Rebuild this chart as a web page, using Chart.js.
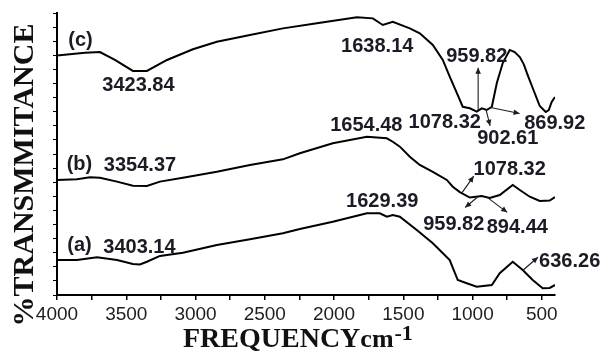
<!DOCTYPE html>
<html>
<head>
<meta charset="utf-8">
<script src="https://cdn.jsdelivr.net/npm/chart.js@4/dist/chart.umd.min.js"></script>
<style>
  html, body { margin: 0; padding: 0; background: #fff; }
  #wrap { width: 603px; height: 353px; position: relative; }
</style>
</head>
<body>
<div id="wrap"><canvas id="ftir" width="603" height="353"></canvas></div>
<script>
// FT-IR spectra: wavenumber (cm-1) and relative transmittance for samples (a), (b), (c)
const wnC = [4000,3798,3690,3582,3452,3351,3206,3019,2846,2607,2369,2124,1835,1720,1648,1576,1453,1381,1287,1215,1165,1114,1071,1020,970,934,898,861,825,782,732,696,659,631,602,566,515,472,450,429,405];
const tC  = [16.99,17.18,17.23,16.67,15.89,15.89,16.67,17.43,17.96,18.44,18.91,19.27,19.70,19.62,19.15,19.38,18.91,18.56,17.73,16.67,15.48,14.33,13.35,13.24,13.00,13.24,13.12,13.35,15.04,16.45,17.38,17.23,16.88,16.38,15.60,14.68,13.40,12.98,13.12,13.69,14.04];

const wnB = [4000,3856,3762,3690,3567,3452,3351,3257,3091,2846,2607,2369,2247,2009,1763,1619,1576,1525,1453,1381,1287,1186,1143,1092,1020,934,876,804,710,659,587,515,443,405];
const tB  = [8.16,8.21,8.35,8.32,8.04,7.75,7.73,8.04,8.32,8.74,9.22,9.62,10.05,10.76,11.23,11.11,10.87,10.52,9.81,9.22,8.74,8.16,7.68,7.30,6.91,7.02,6.88,7.09,7.80,7.45,6.97,6.67,6.70,6.95];

const wnA = [4000,3856,3711,3567,3452,3401,3351,3257,3091,2846,2607,2369,2247,2009,1763,1670,1619,1576,1525,1403,1287,1165,1107,1042,970,861,804,710,638,566,494,443,405];
const tA  = [2.48,2.48,2.67,2.48,2.20,2.16,2.36,2.77,3.00,3.55,3.95,4.38,4.68,5.20,5.79,5.79,5.55,5.67,5.55,4.61,3.67,2.48,1.06,0.83,0.59,0.71,1.54,2.36,1.77,1.06,0.48,0.50,0.71];

// Sample tags and marked band positions (cm-1)
const sampleTags = ['(a)', '(b)', '(c)'];
const bandsA = [3403.14, 1629.39, 636.26];
const bandsB = [3354.37, 1654.48, 1078.32, 959.82, 894.44];
const bandsC = [3423.84, 1638.14, 1078.32, 959.82, 902.61, 869.92];

// Axis ticks
const xTickStep = 250;
const xLabelStep = 500;

// Placement of tags / band labels in axis units, and leader arrows in pixels
const tagPlacement = [[3838, 3.12], [3838, 8.87], [3830, 17.66]];
const labelPlacement = {
  a: [[3405, 2.98, null], [1652, 6.24, null], [299, 1.99, [15, -13]]],
  b: [[3401, 8.79, null], [1767, 11.60, null], [732, 8.51, [12, -17]], [1136, 4.61, [-13, 11]], [677, 4.40, [20, 15]]],
  c: [[3412, 14.47, null], [1688, 17.23, null], [1201, 11.84, null], [970, 16.52, [0, -43]], [746, 10.71, [4, 16]], [407, 11.77, [29, 6]]]
};

const spectra = {
  a: { wn: wnA, t: tA, bands: bandsA },
  b: { wn: wnB, t: tB, bands: bandsB },
  c: { wn: wnC, t: tC, bands: bandsC }
};

function toPoints(wn, t) { return wn.map((w, i) => ({ x: w, y: t[i] })); }

function valueAt(wn, t, w) {
  for (let i = 0; i < wn.length - 1; i++) {
    const a = wn[i], b = wn[i + 1];
    if (w <= a && w >= b) {
      const f = (a - w) / (a - b);
      return t[i] + (t[i + 1] - t[i]) * f;
    }
  }
  return t[t.length - 1];
}

function drawArrow(ctx, x0, y0, x1, y1) {
  ctx.beginPath();
  ctx.moveTo(x0, y0);
  ctx.lineTo(x1, y1);
  ctx.stroke();
  const ang = Math.atan2(y1 - y0, x1 - x0), L = 6, W = 2.8;
  const bx = x1 - L * Math.cos(ang), by = y1 - L * Math.sin(ang);
  ctx.beginPath();
  ctx.moveTo(x1, y1);
  ctx.lineTo(bx + W * Math.sin(ang), by - W * Math.cos(ang));
  ctx.lineTo(bx - W * Math.sin(ang), by + W * Math.cos(ang));
  ctx.closePath();
  ctx.fill();
}

const bandAnnotations = {
  id: 'bandAnnotations',
  afterDraw(chart) {
    const { ctx } = chart;
    const xs = chart.scales.x, ys = chart.scales.y;
    ctx.save();
    ctx.fillStyle = '#1b1b26';
    ctx.strokeStyle = '#1b1b26';
    ctx.lineWidth = 1.1;
    ctx.font = 'bold 20px "Liberation Sans", Arial, sans-serif';
    ctx.textAlign = 'center';
    ctx.textBaseline = 'alphabetic';

    sampleTags.forEach((tag, i) => {
      const [w, v] = tagPlacement[i];
      ctx.fillText(tag, xs.getPixelForValue(w), ys.getPixelForValue(v));
    });

    Object.keys(spectra).forEach(key => {
      const s = spectra[key];
      s.bands.forEach((band, i) => {
        const [w, v, lead] = labelPlacement[key][i];
        ctx.fillText(band.toFixed(2), xs.getPixelForValue(w), ys.getPixelForValue(v));
        if (lead) {
          const px = xs.getPixelForValue(band);
          const py = ys.getPixelForValue(valueAt(s.wn, s.t, band));
          drawArrow(ctx, px, py, px + lead[0], py + lead[1]);
        }
      });
    });

    // Axis titles
    ctx.fillStyle = '#111';
    ctx.font = 'bold 30px "Liberation Serif", "Times New Roman", serif';
    ctx.save();
    ctx.translate(33, 175);
    ctx.rotate(-Math.PI / 2);
    ctx.textAlign = 'center';
    ctx.fillText('%TRANSMMITANCE', 0, 0);
    ctx.restore();

    ctx.textAlign = 'left';
    let x = 183;
    ctx.font = 'bold 28px "Liberation Serif", "Times New Roman", serif';
    ctx.fillText('FREQUENCY', x, 347);
    x += ctx.measureText('FREQUENCY').width;
    ctx.font = 'bold 26px "Liberation Serif", "Times New Roman", serif';
    ctx.fillText('cm', x, 347);
    x += ctx.measureText('cm').width + 1;
    ctx.font = 'bold 22px "Liberation Serif", "Times New Roman", serif';
    ctx.fillText('-1', x, 340);
    ctx.restore();
  }
};

const lineStyle = { borderColor: '#000', borderWidth: 2, pointRadius: 0, fill: false, tension: 0 };

new Chart(document.getElementById('ftir'), {
  type: 'line',
  data: {
    datasets: [
      Object.assign({ label: '(a)', data: toPoints(wnA, tA) }, lineStyle),
      Object.assign({ label: '(b)', data: toPoints(wnB, tB) }, lineStyle),
      Object.assign({ label: '(c)', data: toPoints(wnC, tC) }, lineStyle)
    ]
  },
  options: {
    responsive: false,
    animation: false,
    devicePixelRatio: 1,
    layout: { padding: { top: 13, right: 48, left: 0, bottom: 0 } },
    plugins: { legend: { display: false }, tooltip: { enabled: false } },
    scales: {
      x: {
        type: 'linear',
        reverse: true,
        min: 405,
        max: 4000,
        afterFit(scale) { scale.height = 58; },
        ticks: {
          stepSize: xTickStep,
          includeBounds: false,
          autoSkip: false,
          maxRotation: 0,
          padding: 3,
          color: '#1e1e1e',
          font: { family: '"Liberation Sans", Arial, sans-serif', size: 19 },
          callback: v => (v % xLabelStep === 0 ? String(v) : '')
        },
        grid: { drawOnChartArea: false, drawTicks: true, tickLength: 5, color: '#000', lineWidth: 1.5 },
        border: { color: '#000', width: 2 }
      },
      y: {
        min: 0,
        max: 20,
        afterFit(scale) { scale.width = 57; },
        ticks: { stepSize: 1, display: false },
        grid: { drawOnChartArea: false, drawTicks: true, tickLength: 4, color: '#000', lineWidth: 1 },
        border: { color: '#000', width: 2 }
      }
    }
  },
  plugins: [bandAnnotations]
});
</script>
</body>
</html>
